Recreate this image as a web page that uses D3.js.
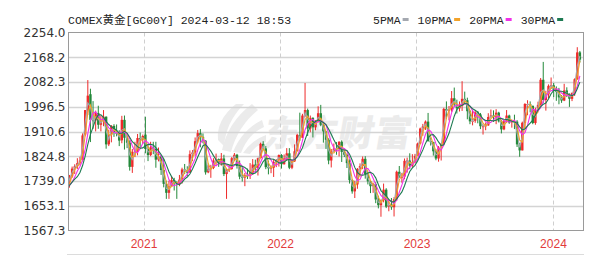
<!DOCTYPE html>
<html><head><meta charset="utf-8">
<script src="https://cdn.jsdelivr.net/npm/d3@7"></script>
<style>body{margin:0;background:#fff}svg{display:block}</style>
</head><body>
<svg id="c" width="600" height="255"></svg>
<script>
// ---- data: weekly [open, high, low, close], COMEX gold front month ----
const firstWeek = "2020-06-01";
const gold2020 = [
 [1751,1765,1670,1683],[1683,1745,1680,1737],
 [1737,1760,1716,1753],[1755,1789,1750,1782],[1783,1797,1763,1790],[1790,1818,1781,1801],
 [1801,1823,1793,1810],[1812,1904,1807,1897],[1900,1985,1894,1985],[1984,2089,1968,2035],
 [2040,2059,1874,1951],[1950,2016,1920,1947],[1949,1983,1911,1975],[1975,2000,1920,1934],
 [1934,1966,1911,1947],[1948,1985,1929,1962],[1962,1963,1851,1866],[1866,1917,1860,1900],
 [1900,1933,1873,1930],[1930,1936,1892,1906],[1906,1935,1894,1905],[1905,1915,1860,1879],
 [1880,1965,1870,1951],[1951,1966,1848,1889],[1889,1900,1853,1872],[1872,1880,1775,1788],
 [1788,1850,1767,1840],[1840,1875,1822,1841],[1841,1902,1828,1888],[1888,1907,1855,1883],
 [1883,1900,1868,1895]
];
const gold2021 = [
 [1900,1962,1835,1850],[1850,1865,1808,1829],[1829,1875,1825,1856],[1856,1875,1832,1850],
 [1850,1875,1785,1813],[1813,1855,1807,1824],[1824,1826,1760,1777],[1777,1815,1717,1729],
 [1729,1740,1677,1698],[1698,1740,1677,1720],[1720,1755,1718,1742],[1742,1750,1706,1733],
 [1733,1738,1677,1728],[1728,1760,1721,1744],[1744,1785,1730,1779],[1779,1798,1763,1777],
 [1777,1790,1756,1768],[1768,1845,1768,1832],[1832,1846,1808,1838],[1838,1890,1826,1877],
 [1877,1916,1870,1905],[1905,1919,1856,1892],[1892,1904,1870,1879],[1879,1880,1761,1769],
 [1769,1794,1766,1781],[1781,1795,1750,1784],[1784,1818,1780,1810],[1810,1834,1792,1815],
 [1815,1817,1788,1801],[1801,1836,1792,1817],[1817,1830,1756,1763],[1763,1782,1677,1778],
 [1778,1795,1770,1781],[1781,1822,1778,1818],[1818,1836,1808,1830],[1830,1833,1782,1791],
 [1791,1810,1745,1754],[1754,1790,1737,1751],[1751,1767,1721,1759],[1759,1782,1746,1757],
 [1757,1801,1746,1768],[1768,1815,1760,1796],[1796,1813,1770,1784],[1784,1820,1758,1818],
 [1818,1872,1818,1868],[1868,1877,1845,1852],[1852,1860,1780,1787],[1787,1810,1762,1783],
 [1783,1793,1766,1785],[1785,1815,1753,1805],[1805,1815,1787,1811],[1811,1831,1789,1829]
];
const gold2022 = [
 [1829,1832,1782,1797],[1797,1831,1796,1817],[1817,1853,1810,1835],[1835,1853,1780,1785],
 [1785,1811,1780,1807],[1807,1866,1805,1842],[1842,1903,1842,1899],[1899,1976,1878,1889],
 [1889,1972,1888,1966],[1966,2079,1960,1985],[1985,1990,1895,1921],[1921,1966,1908,1958],
 [1958,1960,1890,1925],[1925,1950,1915,1945],[1945,1998,1945,1974],[1974,2003,1929,1934],
 [1934,1937,1872,1911],[1911,1911,1850,1882],[1882,1887,1797,1810],[1810,1850,1786,1842],
 [1842,1869,1840,1851],[1851,1874,1830,1850],[1850,1877,1824,1875],[1875,1880,1805,1840],
 [1840,1848,1822,1830],[1830,1834,1784,1801],[1801,1814,1730,1742],[1742,1744,1695,1703],
 [1703,1740,1680,1727],[1727,1784,1712,1781],[1781,1800,1754,1791],[1791,1824,1780,1816],
 [1816,1825,1747,1763],[1763,1771,1727,1738],[1738,1740,1697,1721],[1721,1733,1698,1728],
 [1728,1735,1662,1675],[1675,1688,1644,1655],[1655,1675,1615,1672],[1672,1730,1665,1709],
 [1709,1714,1645,1650],[1650,1676,1634,1656],[1656,1680,1639,1648],[1648,1683,1616,1676],
 [1676,1775,1670,1771],[1771,1791,1750,1754],[1754,1767,1733,1754],[1754,1817,1745,1809],
 [1809,1820,1768,1810],[1810,1835,1780,1792],[1792,1832,1785,1804],[1804,1833,1800,1826]
];
const gold2023 = [
 [1826,1872,1826,1869],[1869,1924,1866,1921],[1921,1937,1896,1928],[1928,1949,1916,1945],
 [1945,1975,1876,1877],[1877,1890,1862,1874],[1874,1875,1827,1842],[1842,1849,1811,1817],
 [1817,1860,1806,1855],[1855,1871,1810,1868],[1868,1993,1865,1989],[1989,2015,1955,1983],
 [1983,1999,1949,1986],[1986,2051,1979,2026],[2026,2063,1996,2005],[2005,2021,1973,1991],
 [1991,2015,1980,1999],[1999,2085,1982,2024],[2024,2049,2006,2019],[2019,2028,1953,1981],
 [1981,1985,1936,1946],[1946,1985,1932,1948],[1948,1985,1941,1977],[1977,1982,1939,1970],
 [1970,1975,1919,1929],[1929,1935,1900,1929],[1929,1942,1915,1932],[1932,1974,1930,1961],
 [1961,1987,1958,1966],[1966,1984,1944,1960],[1960,1988,1936,1976],[1976,1979,1942,1946],
 [1946,1950,1904,1918],[1918,1951,1915,1946],[1946,1985,1940,1966],[1966,1969,1937,1942],
 [1942,1952,1924,1946],[1946,1969,1919,1945],[1945,1950,1857,1866],[1866,1871,1823,1845],
 [1845,1945,1845,1941],[1941,2009,1920,2006],[2006,2019,1967,2006],[2006,2015,1977,2000],
 [2000,2000,1936,1940],[1940,1993,1934,1985],[1985,2014,1984,2003],[2003,2096,2000,2090],
 [2090,2152,2010,2020],[2020,2052,1983,2039],[2039,2074,2025,2069],[2069,2098,2058,2071]
];
const gold2024 = [
 [2071,2079,2030,2052],[2052,2067,2017,2051],[2051,2062,2005,2029],[2029,2037,2010,2018],
 [2018,2076,2016,2053],[2053,2064,2030,2038],[2038,2043,1996,2024],[2024,2045,2016,2045],
 [2045,2095,2034,2092],[2092,2203,2090,2185],[2185,2190,2150,2160]
];
const yTickLabels = [2254.0, 2168.2, 2082.3, 1996.5, 1910.6, 1824.8, 1739.0, 1653.1, 1567.3];
const yearTicks = ["2021-01-01", "2022-01-01", "2023-01-01", "2024-01-01"];
const xDomain = ["2020-06-13", "2024-03-24"];
const maNames = ["5PMA", "10PMA", "20PMA", "30PMA"];
const maWeeks = [1, 2, 4, 6];
const maColors = ["#a4a8b0", "#f2a22a", "#f030e8", "#1d7a52"];
const titleText = "COMEX黄金[GC00Y] 2024-03-12 18:53";

// ---- build ----
const parse = d3.timeParse("%Y-%m-%d");
const start = parse(firstWeek);
const bars = [...gold2020, ...gold2021, ...gold2022, ...gold2023, ...gold2024].map((r, i) => ({
  date: d3.timeDay.offset(d3.timeWeek.offset(start, i), 2),
  o: r[0], h: r[1], l: r[2], c: r[3]
}));

const L = 68.5, R = 583.5, T = 32.5, B = 230.5;
const x = d3.scaleTime().domain(xDomain.map(parse)).range([68, 584]);
const y = d3.scaleLinear().domain([yTickLabels[yTickLabels.length - 1], yTickLabels[0]]).range([B, T]);

const svg = d3.select("#c");

// watermark
const wm = svg.append("g").attr("fill", "#ebebeb");
wm.append("path").attr("d", "M222,150 Q228,122 252,104 L258,110 Q238,126 231,152 Z");
wm.append("path").attr("d", "M233,152 Q242,130 262,120 L264,127 Q248,134 241,153 Z");
wm.append("path").attr("d", "M243,153 Q252,140 266,135 L266,142 Q256,145 250,154 Z");
wm.append("path").attr("d", "M218,140 Q216,120 236,104 L244,104 Q226,122 224,146 Z");
wm.append("text").attr("x", 262).attr("y", 146)
  .attr("transform", "skewX(-10) translate(26,0)")
  .attr("font-family", "Noto Sans CJK SC").attr("font-weight", 900)
  .attr("font-size", 36).attr("letter-spacing", 1).text("东方财富");

// grid
svg.append("g").selectAll("line").data(yTickLabels.slice(1, -1)).join("line")
  .attr("x1", L).attr("x2", R).attr("y1", d => Math.round(y(d)) + 0.5).attr("y2", d => Math.round(y(d)) + 0.5)
  .attr("stroke", "#d4d4d4").attr("stroke-width", 1.4);
svg.append("g").selectAll("line").data(yearTicks.map(parse)).join("line")
  .attr("x1", d => Math.round(x(d)) + 0.5).attr("x2", d => Math.round(x(d)) + 0.5)
  .attr("y1", T).attr("y2", B)
  .attr("stroke", "#cfcfcf").attr("stroke-dasharray", "4,3");

// clip
svg.append("clipPath").attr("id", "clip").append("rect")
  .attr("x", L).attr("y", T).attr("width", R - L).attr("height", B - T);
const plot = svg.append("g").attr("clip-path", "url(#clip)");

// candles
const up = "#ee2a2a", down = "#23893a";
const cg = plot.append("g");
cg.selectAll("line").data(bars).join("line")
  .attr("x1", d => x(d.date)).attr("x2", d => x(d.date))
  .attr("y1", d => y(d.h)).attr("y2", d => y(d.l))
  .attr("stroke", d => d.c >= d.o ? up : down).attr("stroke-width", 1);
cg.selectAll("rect").data(bars).join("rect")
  .attr("x", d => x(d.date) - 1.2).attr("width", 2.4)
  .attr("y", d => y(Math.max(d.o, d.c)))
  .attr("height", d => Math.max(1, Math.abs(y(d.o) - y(d.c))))
  .attr("fill", d => d.c >= d.o ? up : down);

// moving averages
maWeeks.forEach((n, k) => {
  const pts = bars.map((d, i) => {
    const s = bars.slice(Math.max(0, i - n + 1), i + 1);
    return [x(d.date), y(d3.mean(s, b => (b.o + b.c) / 2))];
  });
  plot.append("path").attr("d", d3.line()(pts))
    .attr("fill", "none").attr("stroke", maColors[k]).attr("stroke-width", 1.1);
});

// border
svg.append("rect").attr("x", L).attr("y", T).attr("width", R - L).attr("height", B - T)
  .attr("fill", "none").attr("stroke", "#9a9a9a");
svg.append("line").attr("x1", 67).attr("x2", 584).attr("y1", 254.5).attr("y2", 254.5)
  .attr("stroke", "#dcdcdc");

// axes
const ya = svg.append("g").attr("transform", `translate(${L},0)`)
  .call(d3.axisLeft(y).tickValues(yTickLabels).tickFormat(d3.format(".1f")).tickSize(0).tickPadding(3));
ya.select(".domain").remove();
ya.selectAll("text").attr("font-family", "DejaVu Sans").attr("font-size", 12).attr("fill", "#333");

const xa = svg.append("g").attr("transform", `translate(0,${B})`)
  .call(d3.axisBottom(x).tickValues(yearTicks.map(parse)).tickFormat(d3.timeFormat("%Y")).tickSize(0).tickPadding(9));
xa.select(".domain").remove();
xa.selectAll("text").attr("font-family", "Liberation Sans").attr("font-size", 12).attr("fill", "#e23b3b");

// title
svg.append("text").attr("x", 68).attr("y", 24)
  .attr("font-family", "Liberation Mono, Noto Sans CJK SC").attr("font-size", 11.5)
  .attr("fill", "#222").text(titleText);

// legend
let lx = 373;
maNames.forEach((name, k) => {
  const t = svg.append("text").attr("x", lx).attr("y", 24)
    .attr("font-family", "Liberation Mono").attr("font-size", 11.5).attr("fill", "#222").text(name);
  const w = t.node().getComputedTextLength();
  svg.append("rect").attr("x", lx + w + 2).attr("y", 18).attr("width", 6).attr("height", 3)
    .attr("fill", maColors[k]);
  lx += w + 17;
});
</script>
</body></html>
